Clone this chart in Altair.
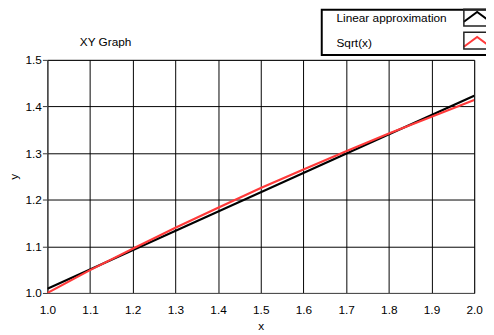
import altair as alt
import pandas as pd

# Data
lin_x = [1.0, 2.0]
lin_y = [1.009, 1.423]
sqrt_x = [1.0, 1.1, 1.2, 1.3, 1.4, 1.5, 1.6, 1.7, 1.8, 1.9, 2.0]
sqrt_y = [1.000, 1.049, 1.095, 1.140, 1.183, 1.225, 1.265, 1.304, 1.342, 1.378, 1.414]
x_ticks = [1.0, 1.1, 1.2, 1.3, 1.4, 1.5, 1.6, 1.7, 1.8, 1.9, 2.0]
y_ticks = [1.0, 1.1, 1.2, 1.3, 1.4, 1.5]
series = ["Linear approximation", "Sqrt(x)"]
colors = ["#000000", "#ff3a3a"]

df = pd.DataFrame({
    "x": lin_x + sqrt_x,
    "y": lin_y + sqrt_y,
    "series": [series[0]] * len(lin_x) + [series[1]] * len(sqrt_x),
})

FONT = "Liberation Sans, Arial"
FS = 12
# zigzag symbol carries the same bounding box as the swatch frame so both legends align
zig = "M-1.93,-1.21M1.93,1.21M-1.93,0.6L0,-0.83L1.93,0.6"
box = "M-1.93,-1.21H1.93V1.21H-1.93Z"

LX, LY = 279, -51
common_legend = dict(title=None, orient="none", legendX=LX, legendY=LY,
                     symbolSize=196, symbolOffset=150,
                     labelOffset={"expr": "-151"}, padding=0,
                     rowPadding={"expr": "-0.5"},
                     labelFont=FONT, labelFontSize=FS)

x_enc = alt.X("x:Q",
              scale=alt.Scale(domain=[1, 2], nice=False, zero=False),
              axis=alt.Axis(values=x_ticks, format=".1f", title="x", grid=True,
                            ticks=False, labelPadding=12, titlePadding=5,
                            labelFlush=False))
y_enc = alt.Y("y:Q",
              scale=alt.Scale(domain=[1, 1.5], nice=False, zero=False),
              axis=alt.Axis(values=y_ticks, format=".1f", title="y", grid=True,
                            ticks=True, tickSize=5, labelPadding=1, titlePadding=5,
                            labelFlush=False))

lines = alt.Chart(df).mark_line(strokeWidth=2.2, clip=True).encode(
    x=x_enc, y=y_enc,
    color=alt.Color("series:N",
                    scale=alt.Scale(domain=series, range=colors),
                    legend=alt.Legend(symbolType=zig, symbolStrokeWidth=2,
                                      strokeColor="black", fillColor="white",
                                      labelColor="black", **common_legend)),
)

swatch_domain = [s + " " for s in series]
swatches = alt.Chart(df).transform_calculate(swatch="datum.series + ' '").mark_point(
    opacity=0, clip=True
).encode(
    x=x_enc, y=y_enc,
    shape=alt.Shape("swatch:N",
                    scale=alt.Scale(domain=swatch_domain, range=[box, box]),
                    legend=alt.Legend(symbolStrokeColor="#222", symbolFillColor="transparent",
                                      symbolOpacity=1, symbolStrokeWidth=1.5,
                                      labelExpr="''", labelColor="transparent",
                                      **common_legend)),
)

chart = alt.layer(lines, swatches).resolve_scale(shape="independent").properties(
    width=434, height=237,
    title=alt.TitleParams("XY Graph", anchor="start", frame="group", dx=33, offset=-41,
                          font=FONT, fontSize=FS, fontWeight="normal", color="black"),
    padding={"left": 40, "top": 50, "right": 12, "bottom": 40},
    autosize="none",
).configure_view(
    stroke="#888", strokeWidth=1
).configure_axis(
    gridColor="black", gridOpacity=1, gridWidth=1,
    domainColor="#555", tickColor="#333",
    labelFont=FONT, labelFontSize=FS, labelColor="black",
    titleFont=FONT, titleFontSize=FS, titleFontWeight="normal", titleColor="black",
).configure_legend(strokeWidth=2)

chart.save("out.html", embed_options={"renderer": "svg", "actions": False})
